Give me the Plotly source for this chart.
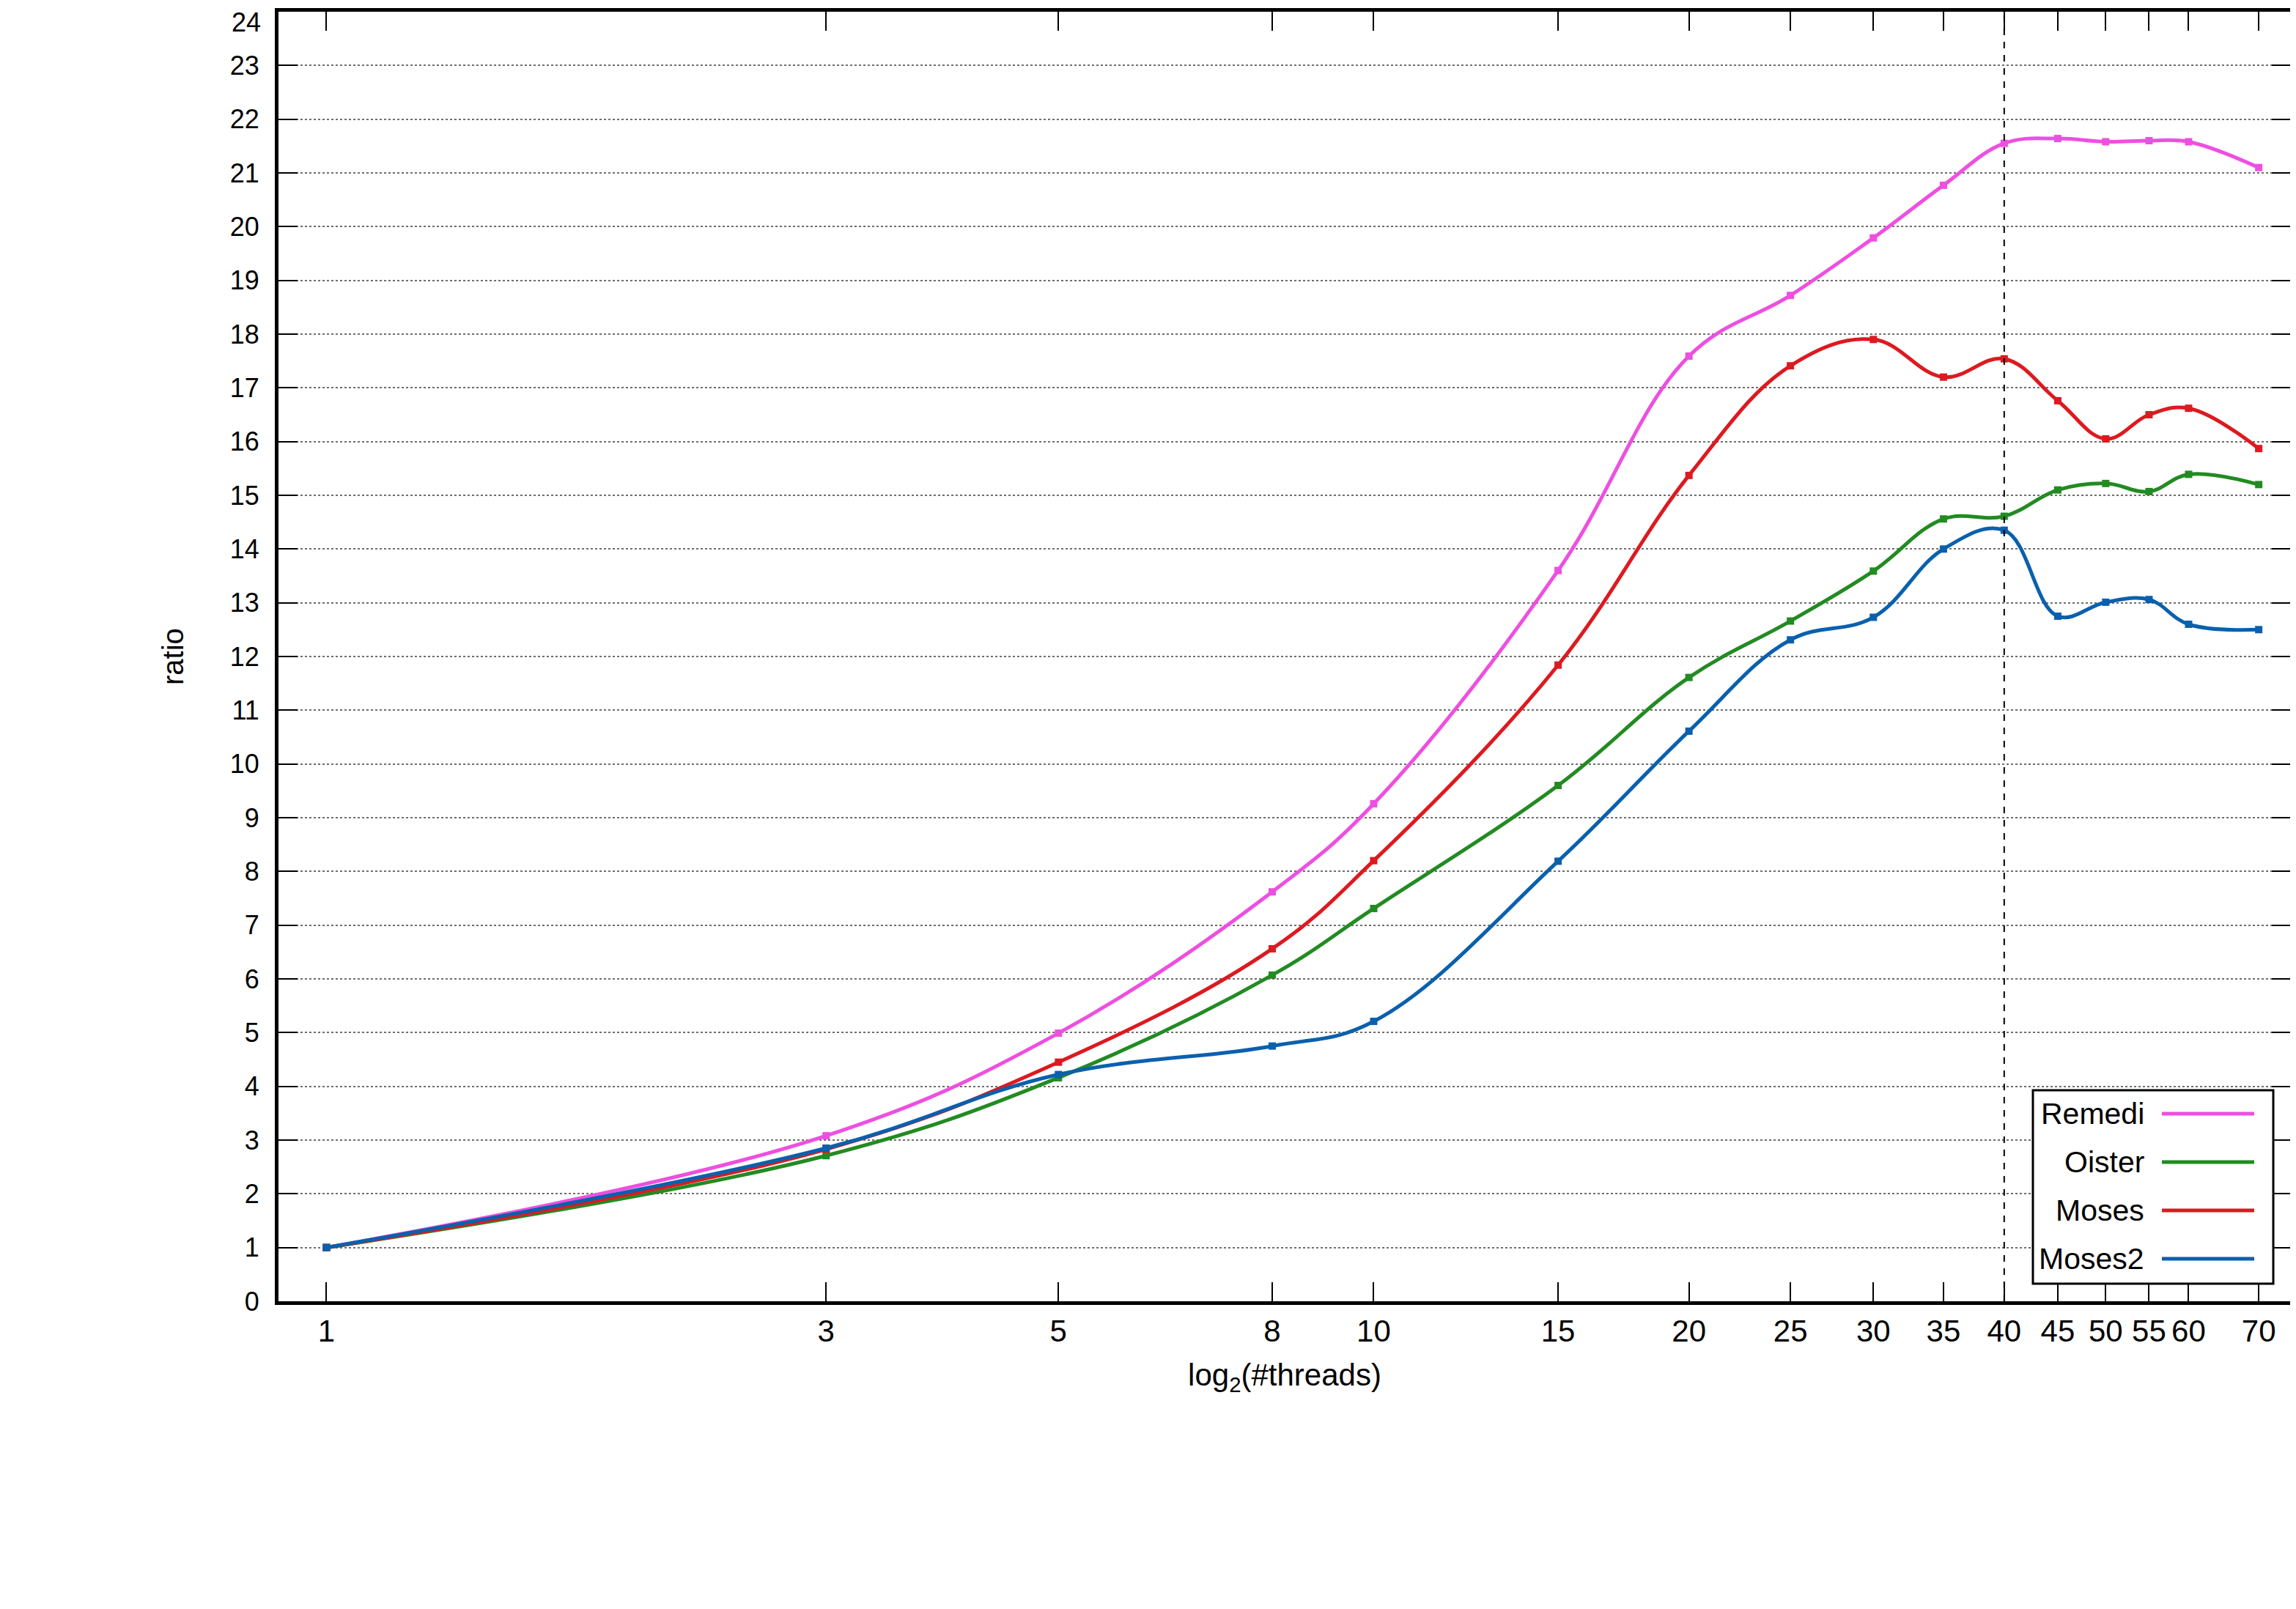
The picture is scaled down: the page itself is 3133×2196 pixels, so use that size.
import plotly.graph_objects as go

# ---- data ----
threads = [1, 3, 5, 8, 10, 15, 20, 25, 30, 35, 40, 45, 50, 55, 60, 70]
remedi = [1.0, 3.08, 4.99, 7.62, 9.26, 13.6, 17.59, 18.72, 19.79, 20.77, 21.55, 21.64, 21.58, 21.6, 21.58, 21.1]
oister = [1.0, 2.71, 4.16, 6.07, 7.31, 9.6, 11.61, 12.66, 13.59, 14.56, 14.61, 15.1, 15.22, 15.07, 15.39, 15.2]
moses = [1.0, 2.83, 4.45, 6.56, 8.2, 11.84, 15.37, 17.41, 17.9, 17.2, 17.54, 16.76, 16.05, 16.5, 16.62, 15.87]
moses2 = [1.0, 2.85, 4.22, 4.75, 5.21, 8.19, 10.61, 12.31, 12.73, 14.0, 14.35, 12.75, 13.01, 13.06, 12.6, 12.5]

series_names = ["Remedi", "Oister", "Moses", "Moses2"]
series_values = [remedi, oister, moses, moses2]
series_colors = ["#ee4fe0", "#228b22", "#dc1a20", "#0a60ad"]

x_tickvals = [1, 3, 5, 8, 10, 15, 20, 25, 30, 35, 40, 45, 50, 55, 60, 70]
y_tickvals = list(range(0, 24))
y_top = 24
marker_x = 40

W, H = 3133, 2196
OFF = 8  # page body margin
L, R, T, B = 380 - OFF, 7 + OFF, 16 - OFF, 420 + OFF

fig = go.Figure()
for name, vals, col in zip(series_names, series_values, series_colors):
    fig.add_trace(go.Scatter(
        x=threads, y=vals, name=name, mode="lines+markers",
        line=dict(color=col, width=5, shape="spline", smoothing=1.1),
        marker=dict(symbol="square", size=10, color=col),
        showlegend=False,
    ))

font = "Liberation Sans, Arial, sans-serif"

fig.update_layout(
    width=W, height=H,
    margin=dict(l=L, r=R, t=T, b=B, autoexpand=False),
    paper_bgcolor="white", plot_bgcolor="white",
    font=dict(family=font, color="black", size=36),
    xaxis=dict(
        type="log", range=[-0.0458, 1.8758],
        tickmode="array", tickvals=x_tickvals, ticktext=[str(v) for v in x_tickvals],
        ticks="inside", ticklen=26, tickwidth=2, tickcolor="black",
        showgrid=False, zeroline=False,
        showline=True, linewidth=5, linecolor="black", mirror="allticks",
        tickfont=dict(family="Liberation Sans Narrow, " + font, size=42),
        title=dict(text="log<sub>2</sub>(#threads)", font=dict(size=42, family=font), standoff=24),
    ),
    yaxis=dict(
        range=[0, y_top], tickmode="array", tickvals=y_tickvals,
        ticktext=[str(v) for v in y_tickvals],
        ticks="inside", ticklen=26, tickwidth=2, tickcolor="black",
        showgrid=True, gridcolor="#6e6e6e", griddash="dot", gridwidth=2,
        zeroline=False,
        showline=True, linewidth=5, linecolor="black", mirror="allticks",
        tickfont=dict(family=font, size=36),
        ticklabelstandoff=14,
    ),
)

# vertical dashed marker line
fig.add_shape(type="line", xref="x", yref="paper", x0=marker_x, x1=marker_x, y0=0, y1=1,
              line=dict(color="black", width=2, dash="dash"))

pw = W - L - R
ph = H - T - B
def px2x(p):
    return (p - OFF - L) / pw
def px2y(p):
    return (H - B - (p - OFF)) / ph

# top y tick label (would be hidden at the edge of the axis)
fig.add_annotation(xref="paper", yref="paper", x=px2x(358), y=1.0, yshift=8,
                   text=str(y_top), showarrow=False, xanchor="right", yanchor="top",
                   font=dict(size=36, family=font, color="black"))

# y axis title
fig.add_annotation(xref="paper", yref="paper", x=px2x(236), y=px2y(896),
                   text="ratio", textangle=-90, showarrow=False,
                   xanchor="center", yanchor="middle",
                   font=dict(size=40, family=font, color="black"))

# custom legend (text right-aligned, line sample right)
fig.add_shape(type="rect", xref="paper", yref="paper",
              x0=px2x(2774), x1=px2x(3102), y0=px2y(1752), y1=px2y(1488),
              line=dict(color="black", width=3), fillcolor="white", layer="above")
entry_y = [1520, 1586, 1652, 1718]
for name, col, ey in zip(series_names, series_colors, entry_y):
    fig.add_annotation(xref="paper", yref="paper", x=px2x(2928), y=px2y(ey),
                       text=name, showarrow=False, xanchor="right", yanchor="middle",
                       font=dict(size=41, family=font, color="black"))
    fig.add_shape(type="line", xref="paper", yref="paper",
                  x0=px2x(2950), x1=px2x(3076), y0=px2y(ey), y1=px2y(ey),
                  line=dict(color=col, width=5), layer="above")

fig.write_html("out.html")
